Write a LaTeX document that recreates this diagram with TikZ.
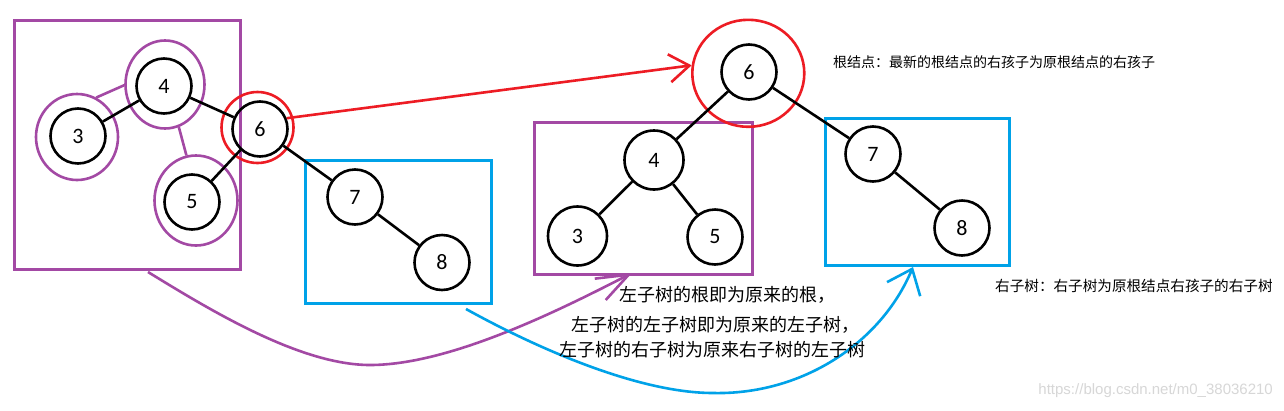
\documentclass[tikz,border=0pt]{standalone}
\usepackage{fontspec}
\setmainfont{Carlito}
\newfontfamily\cjk{Noto Sans CJK SC}
\newfontfamily\wmfont{Liberation Sans}
\usetikzlibrary{shapes.geometric,arrows.meta}
\definecolor{ppl}{RGB}{163,73,164}
\definecolor{rd}{RGB}{237,28,36}
\definecolor{bl}{RGB}{0,162,232}
\definecolor{wmc}{RGB}{215,215,215}
\begin{document}
\begin{tikzpicture}[x=1pt,y=-1pt,
  num/.style={circle,draw=black,line width=2.6pt,minimum size=55pt,inner sep=0pt,font=\fontsize{22}{26}\selectfont},
  ring/.style={ellipse,draw=ppl,line width=2.6pt,inner sep=0pt},
  redring/.style={ellipse,draw=rd,line width=2.6pt,inner sep=0pt},
  pbox/.style={rectangle,draw=ppl,line width=3pt,inner sep=0pt},
  bbox/.style={rectangle,draw=bl,line width=3.2pt,inner sep=0pt},
  link/.style={line width=2.6pt,black},
  note/.style={font=\cjk\fontsize{14}{17}\selectfont,inner sep=0pt,anchor=west},
  bigtxt/.style={font=\cjk\fontsize{18}{22}\selectfont,inner sep=0pt},
]
\fill[white] (0,0) rectangle (1284,410);
\useasboundingbox (0,0) rectangle (1284,410);

% ---------- left: original tree ----------
\node[pbox,minimum width=226pt,minimum height=249pt] (lbox) at (127,144.5) {};
\node[ring,minimum width=79pt,minimum height=88pt] (p4) at (165,84.5) {};
\node[ring,minimum width=82pt,minimum height=86pt] (p3) at (77,137) {};
\node[ring,minimum width=83pt,minimum height=90pt] (p5) at (196,200.5) {};
\draw[ppl,line width=2.6pt] (p3.64) -- (p4.181);
\draw[ppl,line width=2.6pt] (p4.-72) -- (p5.102);

\node[num] (l4) at (164,86) {4};
\node[num] (l3) at (78,136) {3};
\node[num] (l5) at (192,202) {5};
\node[num] (l6) at (260,129) {6};
\node[redring,minimum width=72pt,minimum height=71pt] (rl) at (257.5,127.5) {};

\node[bbox,minimum width=186pt,minimum height=143pt] (lbbox) at (398.5,232) {};
\node[num] (l7) at (355,197) {7};
\node[num] (l8) at (442,262.5) {8};

\draw[link] (l4) -- (l3);
\draw[link] (l4) -- (l6);
\draw[link] (l6) -- (l5);
\draw[link] (l6) -- (l7);
\draw[link] (l7) -- (l8);

% ---------- right: new tree ----------
\node[pbox,minimum width=218pt,minimum height=152pt] (mbox) at (643.5,198.5) {};
\node[bbox,minimum width=184pt,minimum height=147pt] (rbox) at (917.5,192) {};
\node[num] (r6) at (749,72) {6};
\node[num,minimum size=59pt] (r4) at (654,160) {4};
\node[num,minimum size=59pt] (r3) at (577.5,236) {3};
\node[num] (r5) at (715,237) {5};
\node[num] (r7) at (873,154) {7};
\node[num] (r8) at (962,228) {8};
\node[redring,minimum width=112pt,minimum height=107pt] (rt) at (748.3,73.3) {};

\draw[link] (r6) -- (r4);
\draw[link] (r6) -- (r7);
\draw[link] (r4) -- (r3);
\draw[link] (r4) -- (r5);
\draw[link] (r7) -- (r8);

% ---------- arrows ----------
\draw[rd,line width=2.6pt,-{Straight Barb[length=20pt,width=28pt]}] (l6.22) -- (rt.172);

\coordinate (pstart) at (148,272);
\coordinate (pend) at (632,273);
\coordinate (pmid) at (370,365);
\draw[ppl,line width=2.6pt,-{Straight Barb[length=32pt,width=24pt]}]
  (pstart) .. controls (210,310) and (300,365) .. (pmid)
  .. controls (450,365) and (560,310) .. (pend);

\coordinate (bstart) at (466,309);
\coordinate (bmid) at (713,393);
\coordinate (bend) at (913,267);
\draw[bl,line width=2.6pt,-{Straight Barb[length=22pt,width=36pt]}]
  (bstart) .. controls (540,350) and (640,393) .. (bmid)
  .. controls (800,395) and (880,345) .. (bend);

% ---------- texts ----------
\node[note] (n1) at (833,62) {根结点：最新的根结点的右孩子为原根结点的右孩子};
\node[note,font=\cjk\fontsize{14.6}{17}\selectfont] (n2) at (995,286) {右子树：右子树为原根结点右孩子的右子树};
\node[bigtxt] (t1) at (727,295) {左子树的根即为原来的根，};
\node[bigtxt] (t2) at (715,325) {左子树的左子树即为原来的左子树，};
\node[bigtxt] (t3) at (712,350) {左子树的右子树为原来右子树的左子树};
\node[font=\wmfont\fontsize{15}{18}\selectfont,text=wmc,anchor=east,inner sep=0pt] (wm) at (1273,391) {https://blog.csdn.net/m0\_38036210};
\end{tikzpicture}
\end{document}
